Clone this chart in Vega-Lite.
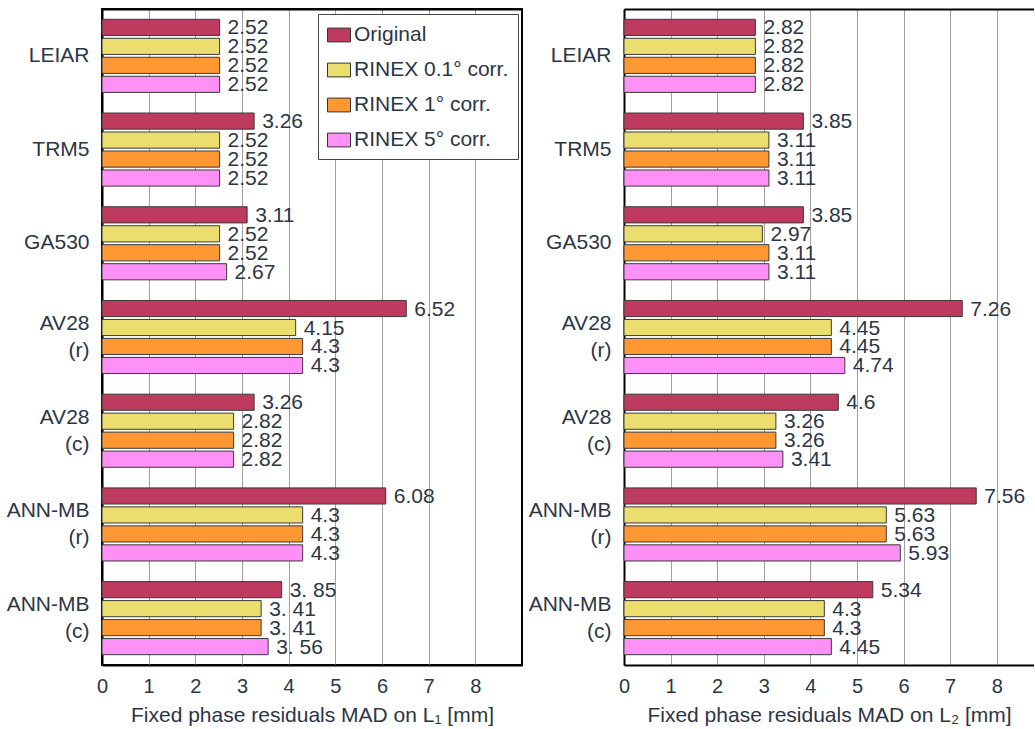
{
  "$schema": "https://vega.github.io/schema/vega-lite/v6.json",
  "background": "white",
  "padding": {"left": 5, "top": 8, "right": 0, "bottom": 0},
  "spacing": 5,
  "datasets": {
    "l1": [
      {"antenna": "LEIAR", "series": "Original", "value": 2.52, "label": "2.52"},
      {"antenna": "LEIAR", "series": "RINEX 0.1° corr.", "value": 2.52, "label": "2.52"},
      {"antenna": "LEIAR", "series": "RINEX 1° corr.", "value": 2.52, "label": "2.52"},
      {"antenna": "LEIAR", "series": "RINEX 5° corr.", "value": 2.52, "label": "2.52"},
      {"antenna": "TRM5", "series": "Original", "value": 3.26, "label": "3.26"},
      {"antenna": "TRM5", "series": "RINEX 0.1° corr.", "value": 2.52, "label": "2.52"},
      {"antenna": "TRM5", "series": "RINEX 1° corr.", "value": 2.52, "label": "2.52"},
      {"antenna": "TRM5", "series": "RINEX 5° corr.", "value": 2.52, "label": "2.52"},
      {"antenna": "GA530", "series": "Original", "value": 3.11, "label": "3.11"},
      {"antenna": "GA530", "series": "RINEX 0.1° corr.", "value": 2.52, "label": "2.52"},
      {"antenna": "GA530", "series": "RINEX 1° corr.", "value": 2.52, "label": "2.52"},
      {"antenna": "GA530", "series": "RINEX 5° corr.", "value": 2.67, "label": "2.67"},
      {"antenna": "AV28 (r)", "series": "Original", "value": 6.52, "label": "6.52"},
      {"antenna": "AV28 (r)", "series": "RINEX 0.1° corr.", "value": 4.15, "label": "4.15"},
      {"antenna": "AV28 (r)", "series": "RINEX 1° corr.", "value": 4.3, "label": "4.3"},
      {"antenna": "AV28 (r)", "series": "RINEX 5° corr.", "value": 4.3, "label": "4.3"},
      {"antenna": "AV28 (c)", "series": "Original", "value": 3.26, "label": "3.26"},
      {"antenna": "AV28 (c)", "series": "RINEX 0.1° corr.", "value": 2.82, "label": "2.82"},
      {"antenna": "AV28 (c)", "series": "RINEX 1° corr.", "value": 2.82, "label": "2.82"},
      {"antenna": "AV28 (c)", "series": "RINEX 5° corr.", "value": 2.82, "label": "2.82"},
      {"antenna": "ANN-MB (r)", "series": "Original", "value": 6.08, "label": "6.08"},
      {"antenna": "ANN-MB (r)", "series": "RINEX 0.1° corr.", "value": 4.3, "label": "4.3"},
      {"antenna": "ANN-MB (r)", "series": "RINEX 1° corr.", "value": 4.3, "label": "4.3"},
      {"antenna": "ANN-MB (r)", "series": "RINEX 5° corr.", "value": 4.3, "label": "4.3"},
      {"antenna": "ANN-MB (c)", "series": "Original", "value": 3.85, "label": "3. 85"},
      {"antenna": "ANN-MB (c)", "series": "RINEX 0.1° corr.", "value": 3.41, "label": "3. 41"},
      {"antenna": "ANN-MB (c)", "series": "RINEX 1° corr.", "value": 3.41, "label": "3. 41"},
      {"antenna": "ANN-MB (c)", "series": "RINEX 5° corr.", "value": 3.56, "label": "3. 56"}
    ],
    "l2": [
      {"antenna": "LEIAR", "series": "Original", "value": 2.82, "label": "2.82"},
      {"antenna": "LEIAR", "series": "RINEX 0.1° corr.", "value": 2.82, "label": "2.82"},
      {"antenna": "LEIAR", "series": "RINEX 1° corr.", "value": 2.82, "label": "2.82"},
      {"antenna": "LEIAR", "series": "RINEX 5° corr.", "value": 2.82, "label": "2.82"},
      {"antenna": "TRM5", "series": "Original", "value": 3.85, "label": "3.85"},
      {"antenna": "TRM5", "series": "RINEX 0.1° corr.", "value": 3.11, "label": "3.11"},
      {"antenna": "TRM5", "series": "RINEX 1° corr.", "value": 3.11, "label": "3.11"},
      {"antenna": "TRM5", "series": "RINEX 5° corr.", "value": 3.11, "label": "3.11"},
      {"antenna": "GA530", "series": "Original", "value": 3.85, "label": "3.85"},
      {"antenna": "GA530", "series": "RINEX 0.1° corr.", "value": 2.97, "label": "2.97"},
      {"antenna": "GA530", "series": "RINEX 1° corr.", "value": 3.11, "label": "3.11"},
      {"antenna": "GA530", "series": "RINEX 5° corr.", "value": 3.11, "label": "3.11"},
      {"antenna": "AV28 (r)", "series": "Original", "value": 7.26, "label": "7.26"},
      {"antenna": "AV28 (r)", "series": "RINEX 0.1° corr.", "value": 4.45, "label": "4.45"},
      {"antenna": "AV28 (r)", "series": "RINEX 1° corr.", "value": 4.45, "label": "4.45"},
      {"antenna": "AV28 (r)", "series": "RINEX 5° corr.", "value": 4.74, "label": "4.74"},
      {"antenna": "AV28 (c)", "series": "Original", "value": 4.6, "label": "4.6"},
      {"antenna": "AV28 (c)", "series": "RINEX 0.1° corr.", "value": 3.26, "label": "3.26"},
      {"antenna": "AV28 (c)", "series": "RINEX 1° corr.", "value": 3.26, "label": "3.26"},
      {"antenna": "AV28 (c)", "series": "RINEX 5° corr.", "value": 3.41, "label": "3.41"},
      {"antenna": "ANN-MB (r)", "series": "Original", "value": 7.56, "label": "7.56"},
      {"antenna": "ANN-MB (r)", "series": "RINEX 0.1° corr.", "value": 5.63, "label": "5.63"},
      {"antenna": "ANN-MB (r)", "series": "RINEX 1° corr.", "value": 5.63, "label": "5.63"},
      {"antenna": "ANN-MB (r)", "series": "RINEX 5° corr.", "value": 5.93, "label": "5.93"},
      {"antenna": "ANN-MB (c)", "series": "Original", "value": 5.34, "label": "5.34"},
      {"antenna": "ANN-MB (c)", "series": "RINEX 0.1° corr.", "value": 4.3, "label": "4.3"},
      {"antenna": "ANN-MB (c)", "series": "RINEX 1° corr.", "value": 4.3, "label": "4.3"},
      {"antenna": "ANN-MB (c)", "series": "RINEX 5° corr.", "value": 4.45, "label": "4.45"}
    ]
  },
  "resolve": {"legend": {"color": "independent"}},
  "config": {
    "font": "Liberation Sans",
    "view": {"stroke": "black", "strokeWidth": 2},
    "axis": {
      "labelFont": "Liberation Sans",
      "titleFont": "Liberation Sans",
      "labelColor": "#2b3646",
      "titleColor": "#2b3646",
      "titleFontWeight": "normal",
      "domainColor": "black",
      "domainWidth": 2
    },
    "axisY": {
      "ticks": false,
      "grid": false,
      "labelFontSize": 21,
      "labelPadding": 13,
      "labelLineHeight": 27,
      "labelLimit": 200
    },
    "axisX": {
      "ticks": false,
      "tickSize": 0,
      "labelFontSize": 20,
      "labelPadding": 11,
      "labelFlush": false,
      "gridColor": "#a0a0a0",
      "gridWidth": 1,
      "gridOpacity": 1,
      "titleFontSize": 21,
      "titlePadding": 8
    }
  },
  "hconcat": [
    {
      "width": 420,
      "height": 656,
      "data": {"name": "l1"},
      "encoding": {
        "y": {
          "field": "antenna", "type": "nominal", "sort": null,
          "scale": {"paddingInner": 0.22, "paddingOuter": 0.11},
          "axis": {
            "title": null,
            "labelExpr": "split(datum.label, ' ')",
            "labelOffset": {"condition": {"test": "indexof(datum.value, ' ') >= 0", "value": -13}, "value": 0}
          }
        },
        "yOffset": {
          "field": "series", "type": "nominal", "sort": null,
          "scale": {"paddingInner": 0.15, "paddingOuter": 0}
        }
      },
      "layer": [
        {
          "mark": {"type": "bar", "stroke": "#3a3a3a", "strokeWidth": 1},
          "encoding": {
            "x": {
              "field": "value", "type": "quantitative",
              "scale": {"domain": [0, 9], "nice": false},
              "axis": {"orient": "bottom", "values": [0, 1, 2, 3, 4, 5, 6, 7, 8], "grid": true, "title": "Fixed phase residuals MAD on L₁ [mm]"}
            },
            "color": {
              "field": "series", "type": "nominal",
              "scale": {
                "domain": ["Original", "RINEX 0.1° corr.", "RINEX 1° corr.", "RINEX 5° corr."],
                "range": ["#be3a5f", "#ecde6e", "#ff9833", "#ff90f6"]
              },
              "legend": {
                "orient": "none", "legendX": 216, "legendY": 5, "title": null,
                "strokeColor": "#444444", "fillColor": "white", "padding": 9,
                "symbolType": "M-1,-0.6H1V0.6H-1Z", "symbolSize": 529,
                "symbolStrokeColor": "#333333", "symbolStrokeWidth": 1, "symbolOpacity": 1,
                "labelFontSize": 21, "labelColor": "#2b3646", "labelFont": "Liberation Sans",
                "labelOffset": 3, "rowPadding": 13, "labelLimit": 300
              }
            }
          }
        },
        {
          "mark": {"type": "text", "align": "left", "baseline": "middle", "dx": 8, "dy": 1, "fontSize": 21, "color": "#2b3646"},
          "encoding": {
            "x": {
              "field": "value", "type": "quantitative",
              "axis": {"orient": "top", "labels": false, "grid": false, "title": null}
            },
            "text": {"field": "label"}
          }
        }
      ],
      "resolve": {"axis": {"x": "independent"}}
    },
    {
      "width": 410,
      "height": 656,
      "view": {"stroke": null},
      "data": {"name": "l2"},
      "encoding": {
        "y": {
          "field": "antenna", "type": "nominal", "sort": null,
          "scale": {"paddingInner": 0.22, "paddingOuter": 0.11},
          "axis": {
            "title": null,
            "labelExpr": "split(datum.label, ' ')",
            "labelOffset": {"condition": {"test": "indexof(datum.value, ' ') >= 0", "value": -13}, "value": 0}
          }
        },
        "yOffset": {
          "field": "series", "type": "nominal", "sort": null,
          "scale": {"paddingInner": 0.15, "paddingOuter": 0}
        }
      },
      "layer": [
        {
          "mark": {"type": "bar", "stroke": "#3a3a3a", "strokeWidth": 1},
          "encoding": {
            "x": {
              "field": "value", "type": "quantitative",
              "scale": {"domain": [0, 8.8], "nice": false},
              "axis": {"orient": "bottom", "values": [0, 1, 2, 3, 4, 5, 6, 7, 8], "grid": true, "title": "Fixed phase residuals MAD on L₂ [mm]"}
            },
            "color": {
              "field": "series", "type": "nominal",
              "scale": {
                "domain": ["Original", "RINEX 0.1° corr.", "RINEX 1° corr.", "RINEX 5° corr."],
                "range": ["#be3a5f", "#ecde6e", "#ff9833", "#ff90f6"]
              },
              "legend": null
            }
          }
        },
        {
          "mark": {"type": "text", "align": "left", "baseline": "middle", "dx": 8, "dy": 1, "fontSize": 21, "color": "#2b3646"},
          "encoding": {
            "x": {
              "field": "value", "type": "quantitative",
              "axis": {"orient": "top", "labels": false, "grid": false, "title": null}
            },
            "text": {"field": "label"}
          }
        }
      ],
      "resolve": {"axis": {"x": "independent"}}
    }
  ]
}
